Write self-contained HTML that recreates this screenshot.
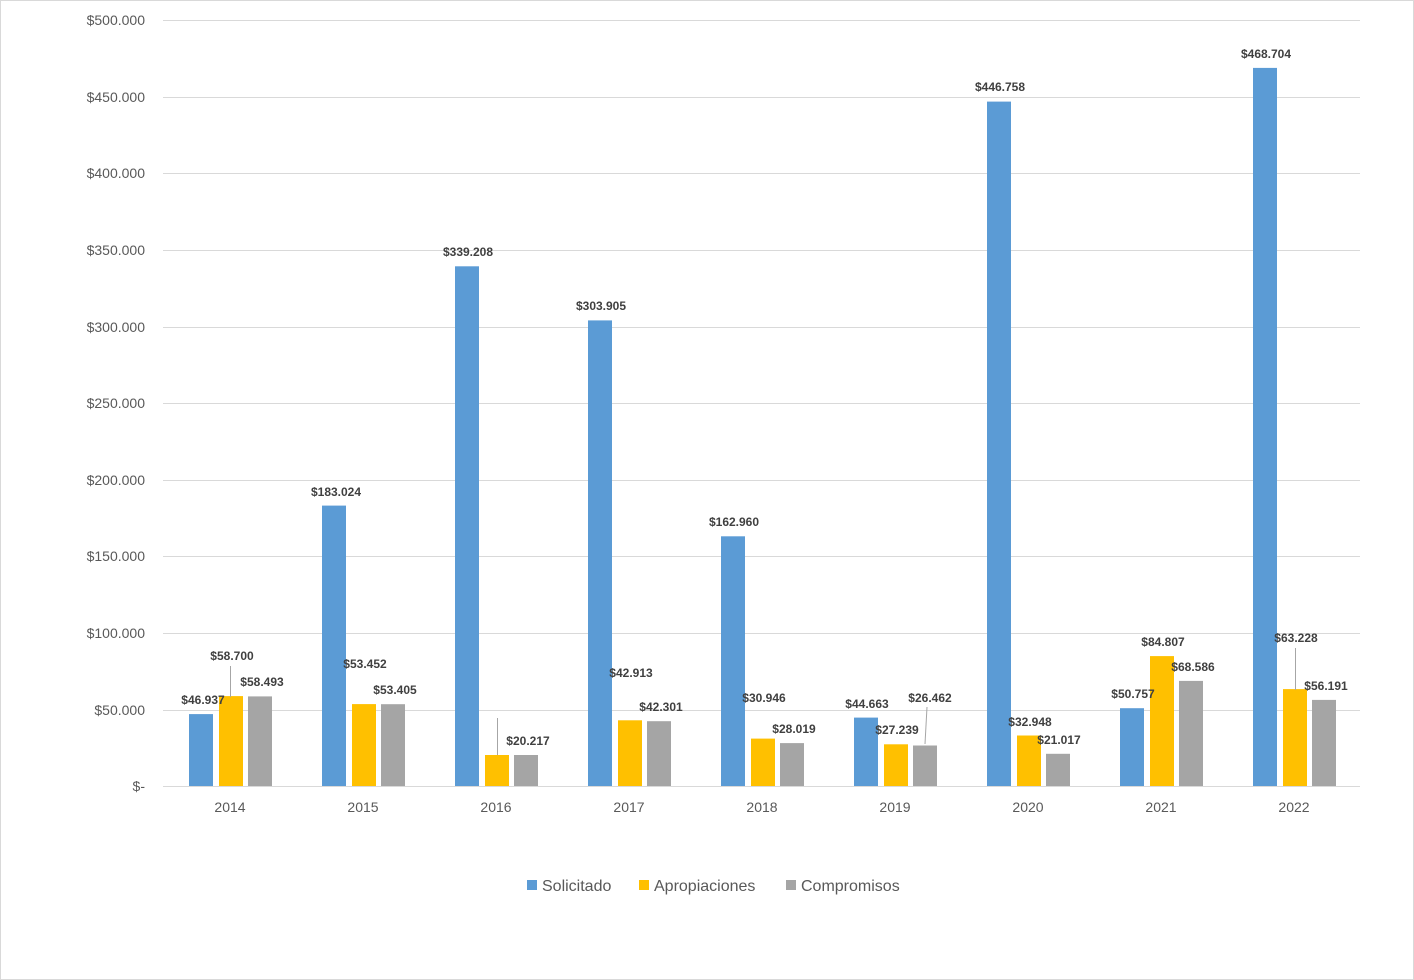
<!DOCTYPE html>
<html><head><meta charset="utf-8"><style>
html,body{margin:0;padding:0;background:#fff}
svg{display:block;font-family:"Liberation Sans",sans-serif}
.ax{font-size:14px;fill:#595959}
.lb{font-size:12px;font-weight:bold;fill:#404040;text-anchor:middle}
</style></head><body>
<svg width="1414" height="980" viewBox="0 0 1414 980">
<rect x="0.5" y="0.5" width="1413" height="979" fill="#fff" stroke="#d9d9d9"/>
<g stroke="#d9d9d9" stroke-width="1">
<line x1="163" x2="1360" y1="20.5" y2="20.5"/>
<line x1="163" x2="1360" y1="97.5" y2="97.5"/>
<line x1="163" x2="1360" y1="173.5" y2="173.5"/>
<line x1="163" x2="1360" y1="250.5" y2="250.5"/>
<line x1="163" x2="1360" y1="327.5" y2="327.5"/>
<line x1="163" x2="1360" y1="403.5" y2="403.5"/>
<line x1="163" x2="1360" y1="480.5" y2="480.5"/>
<line x1="163" x2="1360" y1="556.5" y2="556.5"/>
<line x1="163" x2="1360" y1="633.5" y2="633.5"/>
<line x1="163" x2="1360" y1="710.5" y2="710.5"/>
<line x1="163" x2="1360" y1="786.5" y2="786.5"/>
</g>
<g class="ax" text-anchor="end">
<text x="145" y="25">$500.000</text><text x="145" y="102">$450.000</text>
<text x="145" y="178">$400.000</text><text x="145" y="255">$350.000</text>
<text x="145" y="332">$300.000</text><text x="145" y="408">$250.000</text>
<text x="145" y="485">$200.000</text><text x="145" y="561">$150.000</text>
<text x="145" y="638">$100.000</text><text x="145" y="715">$50.000</text>
<text x="145" y="791">$-</text>
</g>
<g class="ax" text-anchor="middle">
<text x="230" y="812">2014</text><text x="363" y="812">2015</text><text x="496" y="812">2016</text>
<text x="629" y="812">2017</text><text x="762" y="812">2018</text><text x="895" y="812">2019</text>
<text x="1028" y="812">2020</text><text x="1161" y="812">2021</text><text x="1294" y="812">2022</text>
</g>
<g fill="#5b9bd5">
<rect x="189" y="714.1" width="24" height="71.9"/>
<rect x="322" y="505.6" width="24" height="280.4"/>
<rect x="455" y="266.3" width="24" height="519.7"/>
<rect x="588" y="320.4" width="24" height="465.6"/>
<rect x="721" y="536.3" width="24" height="249.7"/>
<rect x="854" y="717.6" width="24" height="68.4"/>
<rect x="987" y="101.6" width="24" height="684.4"/>
<rect x="1120" y="708.2" width="24" height="77.8"/>
<rect x="1253" y="67.9" width="24" height="718.1"/>
</g>
<g fill="#ffc000">
<rect x="219" y="696.1" width="24" height="89.9"/>
<rect x="352" y="704.1" width="24" height="81.9"/>
<rect x="485" y="755" width="24" height="31"/>
<rect x="618" y="720.3" width="24" height="65.7"/>
<rect x="751" y="738.6" width="24" height="47.4"/>
<rect x="884" y="744.3" width="24" height="41.7"/>
<rect x="1017" y="735.5" width="24" height="50.5"/>
<rect x="1150" y="656.1" width="24" height="129.9"/>
<rect x="1283" y="689.1" width="24" height="96.9"/>
</g>
<g fill="#a5a5a5">
<rect x="248" y="696.4" width="24" height="89.6"/>
<rect x="381" y="704.2" width="24" height="81.8"/>
<rect x="514" y="755" width="24" height="31"/>
<rect x="647" y="721.2" width="24" height="64.8"/>
<rect x="780" y="743.1" width="24" height="42.9"/>
<rect x="913" y="745.5" width="24" height="40.5"/>
<rect x="1046" y="753.8" width="24" height="32.2"/>
<rect x="1179" y="680.9" width="24" height="105.1"/>
<rect x="1312" y="699.9" width="24" height="86.1"/>
</g>
<g stroke="#a6a6a6" stroke-width="1">
<line x1="230.5" y1="666" x2="230.5" y2="697"/>
<line x1="497.5" y1="718" x2="497.5" y2="755"/>
<line x1="927" y1="707" x2="925" y2="744"/>
<line x1="1295.5" y1="648" x2="1295.5" y2="690"/>
</g>
<g class="lb">
<text x="203" y="704">$46.937</text><text x="232" y="660">$58.700</text><text x="262" y="686">$58.493</text>
<text x="336" y="496">$183.024</text><text x="365" y="668">$53.452</text><text x="395" y="694">$53.405</text>
<text x="468" y="256">$339.208</text><text x="528" y="745">$20.217</text>
<text x="601" y="310">$303.905</text><text x="631" y="677">$42.913</text><text x="661" y="711">$42.301</text>
<text x="734" y="526">$162.960</text><text x="764" y="702">$30.946</text><text x="794" y="733">$28.019</text>
<text x="867" y="708">$44.663</text><text x="897" y="734">$27.239</text><text x="930" y="702">$26.462</text>
<text x="1000" y="91">$446.758</text><text x="1030" y="726">$32.948</text><text x="1059" y="744">$21.017</text>
<text x="1133" y="698">$50.757</text><text x="1163" y="646">$84.807</text><text x="1193" y="671">$68.586</text>
<text x="1266" y="58">$468.704</text><text x="1296" y="642">$63.228</text><text x="1326" y="690">$56.191</text>
</g>
<g font-size="16" fill="#595959">
<rect x="527" y="880" width="10" height="10" fill="#5b9bd5"/><text x="542" y="891">Solicitado</text>
<rect x="639" y="880" width="10" height="10" fill="#ffc000"/><text x="654" y="891">Apropiaciones</text>
<rect x="786" y="880" width="10" height="10" fill="#a5a5a5"/><text x="801" y="891">Compromisos</text>
</g>
</svg>
</body></html>
